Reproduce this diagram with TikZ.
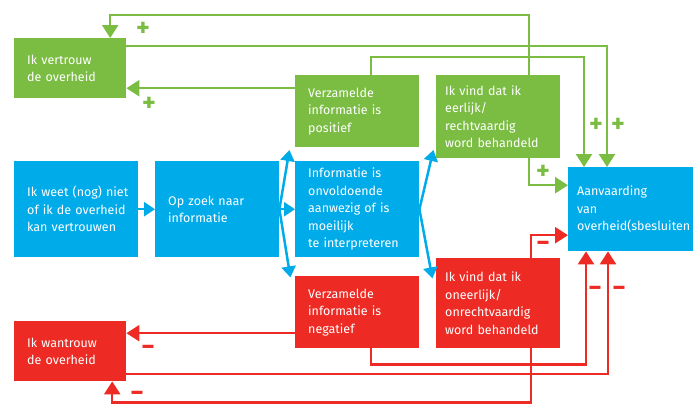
\documentclass[tikz,border=0pt]{standalone}
\usepackage{fontspec}
\setmainfont{Fira Sans}
\usetikzlibrary{arrows.meta}
\definecolor{groen}{RGB}{122,189,66}
\definecolor{blauw}{RGB}{0,171,234}
\definecolor{rood}{RGB}{237,43,36}
\hyphenpenalty=10000
\exhyphenpenalty=10000

\tikzset{
  blok/.style={rectangle, fill=#1, text=white, inner xsep=13pt, inner ysep=0pt,
    align=left, anchor=north west, font=\fontsize{12.5}{17.5}\selectfont},
  pijl/.style={draw=#1, line width=2.5pt, -{Triangle[width=16pt,length=13pt]}},
  bpijl/.style={draw=blauw, line width=2.5pt, -{Triangle[width=14pt,length=11pt]}},
  teken/.style={text=#1, inner sep=0pt, font=\fontsize{26}{26}\bfseries\selectfont}
}

\begin{document}
\begin{tikzpicture}[x=1pt,y=1pt,yscale=-1,xscale=1]
\useasboundingbox (0,0) rectangle (693,405);

% Text Node
\node (vertrouw) [blok=groen, text width=86pt, minimum height=60pt] at (14,38) {Ik vertrouw\\de overheid};
% Text Node
\node (wantrouw) [blok=rood, text width=86pt, minimum height=60pt] at (14,321) {Ik wantrouw\\de overheid};
% Text Node
\node (weet) [blok=blauw, text width=98pt, minimum height=96pt] at (14,161) {Ik~weet~(nog)~niet\\of~ik~de~overheid\\kan~vertrouwen};
% Text Node
\node (zoek) [blok=blauw, text width=98pt, minimum height=96pt] at (155,161) {Op zoek naar\\informatie};
% Text Node
\node (onvold) [blok=blauw, text width=98pt, minimum height=96pt] at (295,161) {Informatie is\\onvoldoende\\aanwezig of is\\moeilijk\\te~interpreteren};
% Text Node
\node (positief) [blok=groen, text width=98pt, minimum height=72pt] at (295,75) {Verzamelde\\informatie is\\positief};
% Text Node
\node (negatief) [blok=rood, text width=98pt, minimum height=72pt] at (295,276) {Verzamelde\\informatie is\\negatief};
% Text Node
\node (eerlijk) [blok=groen, inner xsep=9pt, text width=106pt, minimum height=83pt] at (436,75) {Ik vind dat ik\\eerlijk/\\rechtvaardig\\word~behandeld};
% Text Node
\node (oneerlijk) [blok=rood, inner xsep=9pt, text width=106pt, minimum height=90pt] at (436,258) {Ik vind dat ik\\oneerlijk/\\onrechtvaardig\\word~behandeld};
% Text Node
\node (aanvaard) [blok=blauw, inner xsep=9pt, text width=182pt, minimum height=84pt] at (568,167) {Aanvaarding\\van\\overheid(sbesluiten};

%Straight Lines (positief)
\draw [pijl=groen] ([xshift=31pt]eerlijk.north) -- ++(0,-60) -| ([xshift=40pt]vertrouw.north);
\draw [pijl=groen] ([yshift=8pt]vertrouw.north east) -| ([xshift=39pt]aanvaard.north west);
\draw [pijl=groen] ([xshift=14pt]positief.north) -- ++(0,-18) -| ([xshift=16pt]aanvaard.north west);
\draw [pijl=groen] ([yshift=-23pt]positief.west) -- ([yshift=20pt]vertrouw.east);
\draw [pijl=groen] ([xshift=31pt]eerlijk.south) |- ([yshift=-24pt]aanvaard.west);

%Straight Lines (negatief)
\draw [pijl=rood] ([xshift=33pt]oneerlijk.north) |- ([yshift=26pt]aanvaard.west);
\draw [pijl=rood] ([yshift=21pt]negatief.west) -- ([yshift=-18pt]wantrouw.east);
\draw [pijl=rood] ([yshift=23pt]wantrouw.east) -| ([xshift=40pt]aanvaard.south west);
\draw [pijl=rood] ([xshift=14pt]negatief.south) -- ++(0,16) -| ([xshift=18pt]aanvaard.south west);
\draw [pijl=rood] ([xshift=33pt]oneerlijk.south) -- ++(0,54) -| ([xshift=42pt]wantrouw.south);

%Straight Lines (zoeken)
\draw [bpijl] (weet.east) -- (zoek.west);
\draw [bpijl] (zoek.east) -- ([shift={(10pt,-11pt)}]zoek.north east);
\draw [bpijl] (zoek.east) -- (onvold.west);
\draw [bpijl] (zoek.east) -- ([shift={(11pt,20pt)}]zoek.south east);
\draw [bpijl] (onvold.east) -- ([shift={(14pt,-11pt)}]onvold.north east);
\draw [bpijl] (onvold.east) -- ([shift={(13pt,21pt)}]onvold.south east);

% Signs
\node (plusA) [teken=groen] at (143,29) {+};
\node (plusB) [teken=groen] at (149,104) {+};
\node (plusC) [teken=groen] at (596,125) {+};
\node (plusD) [teken=groen] at (618,125) {+};
\node (plusE) [teken=groen] at (543,172) {+};
\node (minA) [teken=rood] at (543,246) {−};
\node (minB) [teken=rood] at (148,350) {−};
\node (minC) [teken=rood] at (137,396) {−};
\node (minD) [teken=rood] at (595,291) {−};
\node (minE) [teken=rood] at (619,291) {−};
\end{tikzpicture}
\end{document}
